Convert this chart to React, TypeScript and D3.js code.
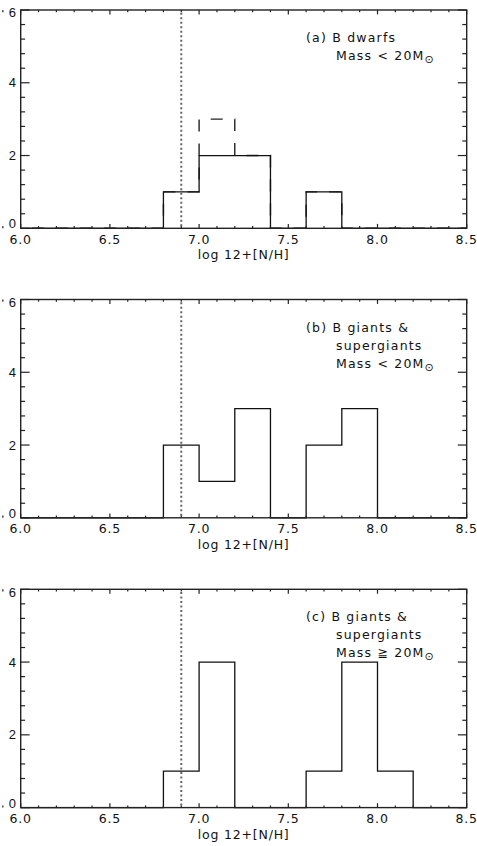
import React from "react";
import * as d3 from "d3";

const binStarts = [6.8, 7.0, 7.2, 7.4, 7.6, 7.8, 8.0];
const binWidth = 0.2;
const countsA = [1, 2, 2, 0, 1, 0, 0];
const countsADashed = [1, 3, 2, 0, 1, 0, 0];
const countsB = [2, 1, 3, 0, 2, 3, 0];
const countsC = [1, 4, 0, 0, 1, 4, 1];
const xMajorTicks = [6.0, 6.5, 7.0, 7.5, 8.0, 8.5];
const xTickLabels = ["6.0", "6.5", "7.0", "7.5", "8.0", "8.5"];
const yMajorTicks = [0, 2, 4, 6];
const yTickLabels = ["0", "2", "4", "6"];
const refLine = 6.9;
const xTitle = "log 12+[N/H]";

const panelTexts: { line: string; sub?: boolean }[][] = [
  [{ line: "(a) B dwarfs" }, { line: "Mass < 20M", sub: true }],
  [{ line: "(b) B giants &" }, { line: "supergiants" }, { line: "Mass < 20M", sub: true }],
  [{ line: "(c) B giants &" }, { line: "supergiants" }, { line: "Mass \u2267 20M", sub: true }],
];

const W = 477;
const H = 846;
const left = 20.7;
const right = 466.7;
const plotH = 218.3;
const tops = [10, 299.5, 589.3];
const font = "'DejaVu Sans', sans-serif";
const numFont = "'Liberation Sans', Arial, sans-serif";
const axisColor = "#222";

function histPoints(counts: number[]) {
  const pts: [number, number][] = [[6.0, 0]];
  pts.push([binStarts[0], 0]);
  counts.forEach((c, i) => {
    const x0 = binStarts[i];
    pts.push([x0, c]);
    pts.push([x0 + binWidth, c]);
  });
  const lastEdge = binStarts[binStarts.length - 1] + binWidth;
  pts.push([lastEdge, 0]);
  pts.push([8.5, 0]);
  return pts;
}

function Panel({ top, counts, dashed, texts }: { top: number; counts: number[]; dashed?: number[]; texts: { line: string; sub?: boolean }[] }) {
  const x = d3.scaleLinear().domain([6.0, 8.5]).range([left, right]);
  const y = d3.scaleLinear().domain([0, 6]).range([top + plotH, top]);
  const line = d3.line<[number, number]>().x((d) => x(d[0])).y((d) => y(d[1]));
  const solidPts = histPoints(counts);
  let dashedPath: string | null = null;
  let dashOffset = 0;
  if (dashed) {
    const dp = histPoints(dashed);
    dashedPath = line(dp);
    const idx = dashed.findIndex((v, i) => v !== counts[i]);
    if (idx >= 0) {
      const target: [number, number] = [binStarts[idx], counts[idx]];
      let L = 0;
      for (let k = 1; k < dp.length; k++) {
        const a = dp[k - 1];
        const b = dp[k];
        const ax = x(a[0]), ay = y(a[1]), bx = x(b[0]), by = y(b[1]);
        const tx = x(target[0]), ty = y(target[1]);
        const onSeg = Math.abs(ax - bx) < 0.01 && Math.abs(ax - tx) < 0.01 && ty <= Math.max(ay, by) + 0.01 && ty >= Math.min(ay, by) - 0.01;
        if (onSeg) {
          L += Math.abs(ty - ay);
          break;
        }
        L += Math.hypot(bx - ax, by - ay);
      }
      dashOffset = -L;
    }
  }
  const xMinor = d3.range(60, 851, 10).map((v) => v / 100).filter((v) => !xMajorTicks.some((m) => Math.abs(m - v) < 1e-6));
  const yMinor = d3.range(0, 61, 4).map((v) => v / 10).filter((v) => !yMajorTicks.some((m) => Math.abs(m - v) < 1e-6));
  const bottom = top + plotH;
  const xMajLen = 4.4, xMinLen = 2.2, yMajLen = 8.9, yMinLen = 4.4;
  const textX1 = 306;
  const textX2 = 336;
  const yMin = yMajorTicks[0];
  const yMax = yMajorTicks[yMajorTicks.length - 1];
  return (
    <g>
      {dashedPath && (
        <path d={dashedPath} fill="none" stroke="#222" strokeWidth={1.4} strokeDasharray="12,12" strokeDashoffset={dashOffset} />
      )}
      <path d={line(solidPts) || ""} fill="none" stroke="#111" strokeWidth={1.3} />
      <line x1={x(refLine)} x2={x(refLine)} y1={bottom - 2} y2={top} stroke="#666" strokeWidth={2} strokeDasharray="2,2.5" />
      <rect x={left} y={top} width={right - left} height={plotH} fill="none" stroke={axisColor} strokeWidth={1.4} />
      {xMajorTicks.map((t, i) => (
        <g key={"xm" + i}>
          <line x1={x(t)} x2={x(t)} y1={bottom} y2={bottom - xMajLen} stroke={axisColor} strokeWidth={1.2} />
          <line x1={x(t)} x2={x(t)} y1={top} y2={top + xMajLen} stroke={axisColor} strokeWidth={1.2} />
          <text x={x(t)} y={bottom + 15.2} textAnchor="middle" fontFamily={font} fontSize={12.5} letterSpacing={0.8} fill="#111">{xTickLabels[i]}</text>
        </g>
      ))}
      {xMinor.map((t, i) => (
        <g key={"xn" + i}>
          <line x1={x(t)} x2={x(t)} y1={bottom} y2={bottom - xMinLen} stroke={axisColor} strokeWidth={1.2} />
          <line x1={x(t)} x2={x(t)} y1={top} y2={top + xMinLen} stroke={axisColor} strokeWidth={1.2} />
        </g>
      ))}
      {yMajorTicks.map((t, i) => (
        <g key={"ym" + i}>
          <line x1={left} x2={left + yMajLen} y1={y(t)} y2={y(t)} stroke={axisColor} strokeWidth={1.2} />
          <line x1={right} x2={right - yMajLen} y1={y(t)} y2={y(t)} stroke={axisColor} strokeWidth={1.2} />
          <text x={16} y={y(t) + (t === yMin ? 0 : t === yMax ? 7.3 : 4.6)} textAnchor="end" fontFamily={numFont} fontSize={13} fill="#111">{yTickLabels[i]}</text>
        </g>
      ))}
      {yMinor.map((t, i) => (
        <g key={"yn" + i}>
          <line x1={left} x2={left + yMinLen} y1={y(t)} y2={y(t)} stroke={axisColor} strokeWidth={1.2} />
          <line x1={right} x2={right - yMinLen} y1={y(t)} y2={y(t)} stroke={axisColor} strokeWidth={1.2} />
        </g>
      ))}
      <text x={(left + right) / 2} y={bottom + 31} textAnchor="middle" fontFamily={font} fontSize={12.5} letterSpacing={0.8} fill="#111">{xTitle}</text>
      {texts.map((t, i) => (
        <text key={"t" + i} x={i === 0 ? textX1 : textX2} y={top + 32 + i * 18} fontFamily={font} fontSize={12.5} letterSpacing={1.2} fill="#111">
          {t.line}
          {t.sub && (
            <tspan fontSize={11} dy={3} letterSpacing={0}>{"\u2299"}</tspan>
          )}
        </text>
      ))}
    </g>
  );
}

export default function App() {
  const series = [countsA, countsB, countsC];
  return (
    <svg width={W} height={H} style={{ position: "absolute", left: 0, top: 0, background: "#fff" }}>
      <rect x={0} y={0} width={W} height={H} fill="#fff" />
      {series.map((c, i) => (
        <Panel key={i} top={tops[i]} counts={c} dashed={i === 0 ? countsADashed : undefined} texts={panelTexts[i]} />
      ))}
    </svg>
  );
}
